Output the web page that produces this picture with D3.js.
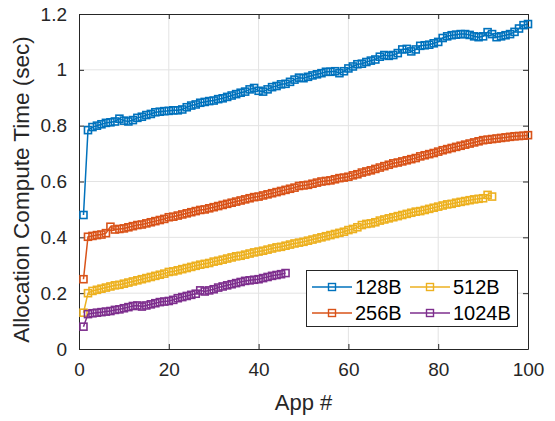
<!DOCTYPE html>
<html>
<head>
<meta charset="utf-8">
<script src="https://cdn.jsdelivr.net/npm/d3@7"></script>
<style>
  body { margin: 0; background: #fff; }
  svg { display: block; font-family: Arial, "Liberation Sans", Helvetica, sans-serif; }
</style>
</head>
<body>
<div id="chart"></div>
<script>
// series values (App # starts at 1)
var s128 = [0.480,0.784,0.795,0.800,0.805,0.810,0.812,0.815,0.825,0.818,
  0.815,0.820,0.828,0.832,0.838,0.842,0.848,0.850,0.852,0.853,
  0.855,0.855,0.858,0.866,0.872,0.876,0.882,0.885,0.888,0.890,
  0.895,0.898,0.903,0.908,0.913,0.918,0.922,0.930,0.935,0.925,
  0.922,0.930,0.938,0.942,0.948,0.950,0.957,0.965,0.972,0.970,
  0.975,0.980,0.984,0.988,0.993,0.993,0.995,0.988,0.995,1.005,
  1.012,1.020,1.022,1.028,1.033,1.037,1.047,1.053,1.050,1.053,
  1.060,1.073,1.075,1.066,1.073,1.086,1.088,1.090,1.095,1.100,
  1.114,1.120,1.124,1.126,1.128,1.128,1.125,1.120,1.117,1.120,
  1.135,1.128,1.117,1.120,1.124,1.128,1.136,1.148,1.160,1.164];
var s256 = [0.250,0.402,0.405,0.408,0.410,0.415,0.438,0.428,0.430,0.432,
  0.436,0.440,0.444,0.446,0.450,0.454,0.458,0.462,0.466,0.472,
  0.474,0.478,0.482,0.486,0.490,0.494,0.498,0.500,0.504,0.508,
  0.512,0.516,0.520,0.524,0.528,0.532,0.536,0.540,0.544,0.546,
  0.550,0.554,0.558,0.562,0.566,0.570,0.574,0.578,0.584,0.586,
  0.588,0.592,0.596,0.600,0.602,0.604,0.608,0.612,0.614,0.617,
  0.622,0.626,0.632,0.636,0.640,0.645,0.650,0.655,0.660,0.665,
  0.668,0.672,0.676,0.680,0.684,0.690,0.694,0.698,0.702,0.707,
  0.712,0.716,0.720,0.724,0.728,0.732,0.736,0.740,0.744,0.748,
  0.750,0.752,0.754,0.756,0.758,0.760,0.762,0.763,0.764,0.766];
var s512 = [0.130,0.200,0.208,0.212,0.216,0.220,0.224,0.228,0.230,0.234,
  0.238,0.242,0.246,0.250,0.254,0.258,0.262,0.266,0.270,0.276,
  0.278,0.282,0.286,0.290,0.294,0.298,0.302,0.305,0.308,0.313,
  0.316,0.320,0.324,0.328,0.332,0.334,0.338,0.342,0.346,0.349,
  0.352,0.356,0.360,0.364,0.366,0.370,0.374,0.378,0.381,0.384,
  0.388,0.392,0.396,0.400,0.404,0.408,0.412,0.416,0.420,0.426,
  0.430,0.436,0.444,0.448,0.450,0.454,0.460,0.464,0.468,0.472,
  0.476,0.480,0.484,0.488,0.492,0.494,0.498,0.502,0.506,0.510,
  0.514,0.518,0.520,0.524,0.527,0.530,0.533,0.536,0.538,0.540,
  0.552,0.546];
var s1024 = [0.080,0.125,0.128,0.130,0.132,0.134,0.136,0.140,0.142,0.146,
  0.150,0.154,0.156,0.152,0.156,0.160,0.164,0.168,0.170,0.172,
  0.176,0.182,0.186,0.190,0.194,0.198,0.210,0.206,0.210,0.214,
  0.220,0.224,0.228,0.232,0.236,0.240,0.244,0.246,0.248,0.250,
  0.254,0.258,0.262,0.265,0.268,0.272];

var seriesNames = ["128B", "256B", "512B", "1024B"];
var seriesColors = ["#0072BD", "#D95319", "#EDB120", "#7E2F8E"];
var xTicks = [0, 20, 40, 60, 80, 100];
var yTicks = [0, 0.2, 0.4, 0.6, 0.8, 1, 1.2];

var width = 555, height = 421;
var margin = {top: 14, right: 27, bottom: 72, left: 79};
var axisColor = "#262626";

var svg = d3.select("#chart").append("svg")
  .attr("width", width).attr("height", height);
svg.append("rect").attr("width", width).attr("height", height).attr("fill", "#fff");

var x = d3.scaleLinear().domain([0, 100]).range([margin.left, width - margin.right]);
var y = d3.scaleLinear().domain([0, 1.2]).range([height - margin.bottom, margin.top]);

// grid
var grid = svg.append("g");
grid.selectAll(".gx").data(xTicks.slice(1, -1)).enter().append("line")
  .attr("x1", d => x(d)).attr("x2", d => x(d))
  .attr("y1", y(0)).attr("y2", y(1.2))
  .attr("stroke", "#e3e3e3").attr("stroke-width", 1);
grid.selectAll(".gy").data(yTicks.slice(1, -1)).enter().append("line")
  .attr("y1", d => y(d)).attr("y2", d => y(d))
  .attr("x1", x(0)).attr("x2", x(100))
  .attr("stroke", "#e3e3e3").attr("stroke-width", 1);

// axes (ticks inside, box all round)
function styleAxis(g) {
  g.select(".domain").attr("stroke", axisColor);
  g.selectAll(".tick line").attr("stroke", axisColor);
  g.selectAll("text").attr("fill", axisColor).attr("font-size", "19px")
    .attr("font-family", "Arial, 'Liberation Sans', sans-serif");
}
var fmt = d => (d === 0 || d === 1) ? String(d) : d3.format(".1f")(d);

svg.append("g").attr("transform", "translate(0," + y(0) + ")")
  .call(d3.axisBottom(x).tickValues(xTicks).tickSizeInner(-5).tickSizeOuter(0).tickPadding(14))
  .call(styleAxis);
svg.append("g").attr("transform", "translate(0," + y(1.2) + ")")
  .call(d3.axisTop(x).tickValues(xTicks).tickSizeInner(-5).tickSizeOuter(0).tickFormat(""))
  .call(styleAxis);
svg.append("g").attr("transform", "translate(" + x(0) + ",0)")
  .call(d3.axisLeft(y).tickValues(yTicks).tickFormat(fmt).tickSizeInner(-5).tickSizeOuter(0).tickPadding(12))
  .call(styleAxis);
svg.append("g").attr("transform", "translate(" + x(100) + ",0)")
  .call(d3.axisRight(y).tickValues(yTicks).tickSizeInner(-5).tickSizeOuter(0).tickFormat(""))
  .call(styleAxis);

// axis labels
svg.append("text")
  .attr("x", (x(0) + x(100)) / 2).attr("y", 410)
  .attr("text-anchor", "middle").attr("font-size", "22px").attr("fill", axisColor)
  .text("App #");
svg.append("text")
  .attr("transform", "translate(29," + ((y(0) + y(1.2)) / 2 + 8) + ") rotate(-90)")
  .attr("text-anchor", "middle").attr("font-size", "22.5px").attr("fill", axisColor)
  .text("Allocation Compute Time (sec)");

// series
var allSeries = [s128, s256, s512, s1024];
var line = d3.line().x((d, i) => x(i + 1)).y(d => y(d));
var ms = 7;

allSeries.forEach(function (vals, k) {
  var g = svg.append("g");
  g.append("path").datum(vals)
    .attr("d", line).attr("fill", "none")
    .attr("stroke", seriesColors[k]).attr("stroke-width", 1.5);
  g.selectAll("rect").data(vals).enter().append("rect")
    .attr("x", (d, i) => x(i + 1) - ms / 2)
    .attr("y", d => y(d) - ms / 2)
    .attr("width", ms).attr("height", ms)
    .attr("fill", "none")
    .attr("stroke", seriesColors[k]).attr("stroke-width", 1.6);
});

// legend
var legend = svg.append("g");
legend.append("rect")
  .attr("x", 306.5).attr("y", 270.5).attr("width", 211).attr("height", 56)
  .attr("fill", "#fff").attr("stroke", axisColor).attr("stroke-width", 1);
var legPos = [[312, 287], [312, 313], [410, 287], [410, 313]];
seriesNames.forEach(function (name, k) {
  var p = legPos[k];
  legend.append("line")
    .attr("x1", p[0]).attr("x2", p[0] + 40).attr("y1", p[1]).attr("y2", p[1])
    .attr("stroke", seriesColors[k]).attr("stroke-width", 1.5);
  legend.append("rect")
    .attr("x", p[0] + 20 - ms / 2).attr("y", p[1] - ms / 2)
    .attr("width", ms).attr("height", ms)
    .attr("fill", "none").attr("stroke", seriesColors[k]).attr("stroke-width", 1.4);
  legend.append("text")
    .attr("x", p[0] + 43).attr("y", p[1] + 7)
    .attr("font-size", "20px").attr("fill", "#000")
    .text(name);
});
</script>
</body>
</html>
